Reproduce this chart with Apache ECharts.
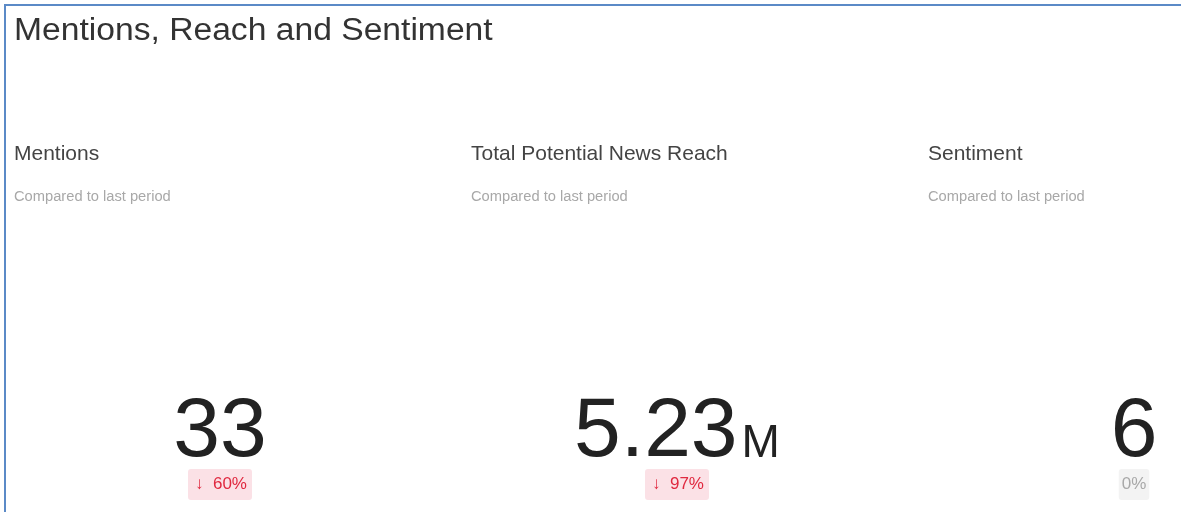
<!DOCTYPE html>
<html>
<head>
<meta charset="utf-8">
<script src="https://cdn.jsdelivr.net/npm/echarts@6/dist/echarts.min.js"></script>
<style>
  html, body { margin: 0; padding: 0; background: #fff; overflow: hidden; }
  #chart { width: 1181px; height: 512px; }
</style>
</head>
<body>
<div id="chart"></div>
<script>
// KPI data
const title = "Mentions, Reach and Sentiment";
const kpiNames = ["Mentions", "Total Potential News Reach", "Sentiment"];
const kpiValues = ["33", "5.23", "6"];
const kpiUnits = ["", "M", ""];
const kpiChanges = [-60, -97, 0];
const subText = "Compared to last period";

const FONT = '"Liberation Sans", Arial, Helvetica, sans-serif';
const ctx = document.createElement("canvas").getContext("2d");
function textW(t, fs) {
  ctx.font = fs + "px " + FONT;
  return ctx.measureText(t).width;
}
// zrender draws text on the 'middle' baseline; shift so the alphabetic baseline lands on `base`
function midY(base, fs) {
  return base - 0.285 * fs;
}

const colStart = 14, colStep = 457, colHalf = 206;
const bigSize = 84, unitSize = 46, unitGap = 4;

const chart = echarts.init(document.getElementById("chart"), null, { renderer: "canvas" });

function buildGraphic() {
  const g = [];
  // blue frame (top + left)
  g.push({ type: "line", shape: { x1: 5, y1: 5, x2: 1181, y2: 5 }, style: { stroke: "#5b8ac7", lineWidth: 2 } });
  g.push({ type: "line", shape: { x1: 5, y1: 4, x2: 5, y2: 512 }, style: { stroke: "#5b8ac7", lineWidth: 2 } });

  g.push({
    type: "text", x: 14, y: midY(40, 31), scaleX: 1.085,
    style: { text: title, font: "31px " + FONT, fill: "#333", textVerticalAlign: "middle" }
  });

  kpiNames.forEach((name, i) => {
    const left = colStart + i * colStep;
    const cx = left + colHalf;
    g.push({
      type: "text", x: left, y: midY(160, 21),
      style: { text: name, font: "21px " + FONT, fill: "#444", textVerticalAlign: "middle" }
    });
    g.push({
      type: "text", x: left, y: midY(201.5, 14.7),
      style: { text: subText, font: "14.7px " + FONT, fill: "#a8a8a8", textVerticalAlign: "middle" }
    });

    // big value (+ optional unit), centered as a group
    const vW = textW(kpiValues[i], bigSize);
    const uW = kpiUnits[i] ? unitGap + textW(kpiUnits[i], unitSize) : 0;
    const x0 = cx - (vW + uW) / 2;
    g.push({
      type: "text", x: x0, y: midY(457, bigSize),
      style: { text: kpiValues[i], font: bigSize + "px " + FONT, fill: "#222", textVerticalAlign: "middle" }
    });
    if (kpiUnits[i]) {
      g.push({
        type: "text", x: x0 + vW + unitGap, y: midY(457, unitSize),
        style: { text: kpiUnits[i], font: unitSize + "px " + FONT, fill: "#222", textVerticalAlign: "middle" }
      });
    }

    // change badge
    const ch = kpiChanges[i];
    const down = ch < 0, up = ch > 0;
    const label = (down ? "\u2193  " : up ? "\u2191  " : "") + Math.abs(ch) + "%";
    g.push({
      type: "text", x: cx, y: 484.5,
      style: {
        text: label,
        font: "17px " + FONT,
        fill: down ? "#e0283f" : up ? "#2a9d4a" : "#a8a8a8",
        backgroundColor: down ? "#fbe1e6" : up ? "#e2f5e7" : "#f3f3f3",
        borderRadius: 3,
        padding: down || up ? [6, 5, 5, 7] : [6, 3, 5, 3],
        lineHeight: 20,
        textAlign: "center",
        textVerticalAlign: "middle"
      }
    });
  });
  return g;
}

chart.setOption({
  animation: false,
  graphic: buildGraphic()
});

window.addEventListener("resize", () => chart.resize());
</script>
</body>
</html>
